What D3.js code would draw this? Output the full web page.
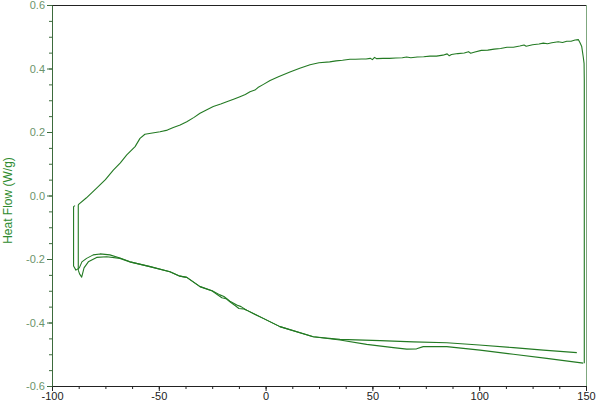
<!DOCTYPE html>
<html>
<head>
<meta charset="utf-8">
<script src="https://cdn.jsdelivr.net/npm/d3@7"></script>
<style>
  body { margin: 0; background: #fff; }
  svg { display: block; font-family: "Liberation Sans", Arial, sans-serif; }
</style>
</head>
<body>
<svg id="chart"></svg>
<script>
// heating scan: step up from the dip, rise to 150 C, then drop at the turn
var heatCurve = [
  [-87.7, -0.235], [-87.7, -0.030], [-87.4, -0.027], [-84.0, -0.008], [-79.1, 0.023],
  [-75.0, 0.050], [-71.3, 0.080], [-68.0, 0.103], [-65.0, 0.128], [-61.1, 0.154],
  [-58.8, 0.180], [-56.5, 0.193], [-53.0, 0.197], [-49.4, 0.201], [-46.0, 0.206],
  [-43.2, 0.214], [-40.0, 0.222], [-36.9, 0.232], [-33.5, 0.246], [-30.7, 0.259],
  [-27.5, 0.270], [-24.5, 0.280], [-21.0, 0.288], [-18.2, 0.295], [-15.0, 0.303],
  [-12.0, 0.311], [-9.5, 0.318], [-7.3, 0.327], [-5.0, 0.332], [-3.6, 0.340],
  [-1.0, 0.350], [2.1, 0.362], [6.0, 0.374], [11.4, 0.389], [16.0, 0.401],
  [20.8, 0.412], [25.0, 0.418], [30.0, 0.421], [33.0, 0.424], [36.0, 0.426],
  [39.5, 0.429], [42.0, 0.429], [45.0, 0.430], [47.0, 0.430], [49.0, 0.432],
  [50.0, 0.428], [51.0, 0.435], [52.0, 0.431], [55.0, 0.432], [58.0, 0.432],
  [61.0, 0.433], [64.0, 0.434], [66.0, 0.436], [68.0, 0.434], [71.0, 0.436],
  [74.0, 0.437], [77.0, 0.439], [80.0, 0.439], [83.0, 0.442], [85.0, 0.446],
  [86.0, 0.440], [87.0, 0.444], [90.0, 0.447], [93.0, 0.449], [95.0, 0.453],
  [96.0, 0.448], [98.0, 0.452], [101.0, 0.457], [104.0, 0.458], [107.0, 0.461],
  [110.0, 0.463], [113.0, 0.467], [116.0, 0.467], [119.0, 0.471], [121.0, 0.474],
  [122.0, 0.470], [125.0, 0.475], [128.0, 0.477], [130.0, 0.480], [132.0, 0.478],
  [134.0, 0.481], [137.0, 0.484], [139.0, 0.482], [141.0, 0.486], [143.0, 0.486],
  [144.9, 0.490], [146.4, 0.491], [147.2, 0.481], [148.0, 0.469], [148.7, 0.437],
  [149.1, 0.416], [149.2, 0.364], [149.2, -0.528]
];

// first cooling scan (upper of the two lower lines), ends on the left step
var coolCurveA = [
  [145.7, -0.495], [130.0, -0.487], [116.0, -0.479], [100.0, -0.471], [84.8, -0.464],
  [69.2, -0.461], [53.6, -0.457], [34.8, -0.453], [22.3, -0.445], [6.7, -0.413],
  [-1.1, -0.387], [-8.9, -0.361], [-11.5, -0.350], [-13.5, -0.345], [-16.7, -0.333],
  [-19.5, -0.318], [-21.4, -0.313], [-25.0, -0.300], [-30.7, -0.287], [-36.9, -0.258],
  [-40.1, -0.254], [-44.8, -0.240], [-54.1, -0.224], [-63.5, -0.209], [-68.2, -0.197],
  [-72.9, -0.187], [-77.5, -0.184], [-80.7, -0.187], [-83.8, -0.198], [-86.0, -0.209],
  [-87.2, -0.228], [-88.8, -0.235], [-89.9, -0.222], [-89.9, -0.035], [-89.2, -0.032]
];

// second cooling scan (lower line with the bump near 75 C), ends in the dip
var coolCurveB = [
  [148.7, -0.528], [131.6, -0.513], [116.0, -0.500], [100.4, -0.487], [84.8, -0.476],
  [73.8, -0.476], [70.7, -0.483], [66.1, -0.484], [59.8, -0.479], [47.3, -0.469],
  [34.8, -0.455], [22.3, -0.445], [6.7, -0.413], [-1.1, -0.387], [-8.9, -0.361],
  [-10.5, -0.357], [-12.5, -0.356], [-14.0, -0.348], [-16.7, -0.335], [-18.5, -0.325],
  [-20.5, -0.322], [-22.0, -0.315], [-25.0, -0.301], [-30.7, -0.287], [-36.9, -0.258],
  [-40.1, -0.254], [-44.8, -0.240], [-54.1, -0.224], [-63.5, -0.209], [-68.2, -0.198],
  [-74.4, -0.193], [-79.1, -0.195], [-83.0, -0.209], [-85.0, -0.228], [-86.1, -0.257],
  [-87.1, -0.247], [-87.7, -0.235]
];

var xMajor = [-100, -50, 0, 50, 100, 150];
var yMajor = [-0.6, -0.4, -0.2, 0.0, 0.2, 0.4, 0.6];

var margin = {top: 5, right: 14, bottom: 20, left: 52};
var width  = 600 - margin.left - margin.right;
var height = 406 - margin.top - margin.bottom;

var x = d3.scaleLinear().domain([-100, 150]).range([0, width]);
var y = d3.scaleLinear().domain([-0.6, 0.6]).range([height, 0]);

var svg = d3.select("#chart")
  .attr("width", 600)
  .attr("height", 406)
  .append("g")
  .attr("transform", "translate(" + margin.left + "," + margin.top + ")");

// frame top and right
svg.append("line")
  .attr("x1", 0).attr("y1", 0.5).attr("x2", width).attr("y2", 0.5)
  .attr("stroke", "#222").attr("stroke-width", 1);
svg.append("line")
  .attr("x1", width + 0.5).attr("y1", 0).attr("x2", width + 0.5).attr("y2", height)
  .attr("stroke", "#7fa77f").attr("stroke-width", 1);

// minor ticks
var xMinor = d3.range(-100, 150.1, 12.5);
var yMinor = d3.range(-0.6, 0.601, 0.05);

svg.append("g")
  .attr("transform", "translate(0," + height + ")")
  .call(d3.axisBottom(x).tickValues(xMinor).tickSize(3).tickFormat(""))
  .call(function(g) { g.select(".domain").remove(); })
  .selectAll("line").attr("stroke", "#222");

svg.append("g")
  .call(d3.axisLeft(y).tickValues(yMinor).tickSize(3).tickFormat(""))
  .call(function(g) { g.select(".domain").remove(); })
  .selectAll("line").attr("stroke", "#3d6b3d");

// main axes
var xAxis = svg.append("g")
  .attr("transform", "translate(0," + height + ")")
  .call(d3.axisBottom(x).tickValues(xMajor).tickSize(5).tickSizeOuter(0).tickPadding(1)
    .tickFormat(d3.format("d")));
xAxis.select(".domain").attr("stroke", "#222");
xAxis.selectAll("line").attr("stroke", "#222");
xAxis.selectAll("text")
  .attr("fill", "#222")
  .attr("font-size", 11)
  .text(function(d) { return String(d).replace("\u2212", "-"); });

var yAxis = svg.append("g")
  .call(d3.axisLeft(y).tickValues(yMajor).tickSize(5).tickSizeOuter(0).tickPadding(2)
    .tickFormat(function(d) { return d3.format(".1f")(d).replace("\u2212", "-"); }));
yAxis.select(".domain").attr("stroke", "#3d6b3d");
yAxis.selectAll("line").attr("stroke", "#3d6b3d");
yAxis.selectAll("text")
  .attr("fill", "#6b946b")
  .attr("font-size", 11);

svg.append("text")
  .attr("transform", "rotate(-90)")
  .attr("x", -height / 2 - 5)
  .attr("y", -margin.left + 12)
  .style("text-anchor", "middle")
  .attr("fill", "#2e8b2e")
  .attr("font-size", 12)
  .text("Heat Flow (W/g)");

var line = d3.line()
  .x(function(d) { return x(d[0]); })
  .y(function(d) { return y(d[1]); });

[coolCurveA, coolCurveB, heatCurve].forEach(function(curve) {
  svg.append("path")
    .datum(curve)
    .attr("fill", "none")
    .attr("stroke", "#237a23")
    .attr("stroke-width", 1.1)
    .attr("stroke-linejoin", "round")
    .attr("d", line);
});
</script>
</body>
</html>
